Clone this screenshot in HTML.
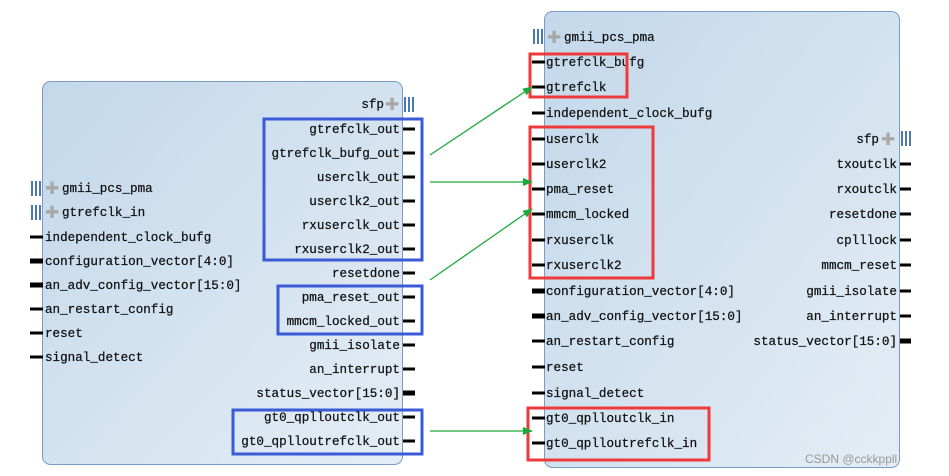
<!DOCTYPE html>
<html><head><meta charset="utf-8"><style>
html,body{margin:0;padding:0;background:#fff;}
svg{display:block;}
text{font-family:"Liberation Mono","DejaVu Sans Mono",monospace;font-size:12.6px;fill:#111;stroke:#111;stroke-width:0.25;}
</style></head><body>
<svg width="949" height="476" viewBox="0 0 949 476" xmlns="http://www.w3.org/2000/svg">
<defs>
<linearGradient id="g" x1="0" y1="0" x2="1" y2="1">
<stop offset="0" stop-color="#c3d8ea"/><stop offset="1" stop-color="#e4edf5"/>
</linearGradient>
<marker id="ah" markerWidth="10" markerHeight="8" refX="9" refY="4" orient="auto" markerUnits="userSpaceOnUse">
<path d="M0,0 L10,4 L0,8 Z" fill="#1aaa3a"/></marker>
</defs>
<rect x="42.5" y="81.5" width="360" height="383" rx="8" fill="url(#g)" stroke="#7a9cc4"/>
<rect x="544.5" y="11.5" width="355" height="456" rx="8" fill="url(#g)" stroke="#7a9cc4"/>

<g stroke="#000" stroke-width="3">
<line x1="30" y1="237" x2="43" y2="237"/>
<line x1="30" y1="261" x2="43" y2="261" stroke-width="5"/>
<line x1="30" y1="285" x2="43" y2="285" stroke-width="5"/>
<line x1="30" y1="309" x2="43" y2="309"/>
<line x1="30" y1="333" x2="43" y2="333"/>
<line x1="30" y1="357" x2="43" y2="357"/>
<line x1="403" y1="129" x2="415" y2="129"/><line x1="403" y1="153" x2="415" y2="153"/>
<line x1="403" y1="177" x2="415" y2="177"/><line x1="403" y1="201" x2="415" y2="201"/>
<line x1="403" y1="225" x2="415" y2="225"/><line x1="403" y1="249" x2="415" y2="249"/>
<line x1="403" y1="273" x2="415" y2="273"/><line x1="403" y1="297" x2="415" y2="297"/>
<line x1="403" y1="321" x2="415" y2="321"/><line x1="403" y1="345" x2="415" y2="345"/>
<line x1="403" y1="369" x2="415" y2="369"/><line x1="403" y1="393" x2="415" y2="393" stroke-width="5"/>
<line x1="403" y1="417" x2="415" y2="417"/><line x1="403" y1="441" x2="415" y2="441"/>
<line x1="532" y1="62" x2="545" y2="62"/><line x1="532" y1="87" x2="545" y2="87"/>
<line x1="532" y1="113" x2="545" y2="113"/><line x1="532" y1="139" x2="545" y2="139"/>
<line x1="532" y1="164" x2="545" y2="164"/><line x1="532" y1="189" x2="545" y2="189"/>
<line x1="532" y1="214" x2="545" y2="214"/><line x1="532" y1="240" x2="545" y2="240"/>
<line x1="532" y1="265" x2="545" y2="265"/>
<line x1="532" y1="291" x2="545" y2="291" stroke-width="5"/><line x1="532" y1="316" x2="545" y2="316" stroke-width="5"/>
<line x1="532" y1="341" x2="545" y2="341"/><line x1="532" y1="367" x2="545" y2="367"/>
<line x1="532" y1="393" x2="545" y2="393"/><line x1="532" y1="418" x2="545" y2="418"/>
<line x1="532" y1="443" x2="545" y2="443"/>
<line x1="900" y1="164" x2="911" y2="164"/><line x1="900" y1="189" x2="911" y2="189"/>
<line x1="900" y1="214" x2="911" y2="214"/><line x1="900" y1="240" x2="911" y2="240"/>
<line x1="900" y1="265" x2="911" y2="265"/><line x1="900" y1="291" x2="911" y2="291"/>
<line x1="900" y1="316" x2="911" y2="316"/><line x1="900" y1="341" x2="911" y2="341" stroke-width="5"/>
</g>
<g fill="#4a78b0">
<rect x="31" y="181" width="2" height="15"/><rect x="35" y="181" width="2" height="15"/><rect x="39" y="181" width="2" height="15"/>
<rect x="31" y="205" width="2" height="15"/><rect x="35" y="205" width="2" height="15"/><rect x="39" y="205" width="2" height="15"/>
<rect x="404" y="97" width="2" height="15"/><rect x="408" y="97" width="2" height="15"/><rect x="412" y="97" width="2" height="15"/>
<rect x="533" y="29" width="2" height="15"/><rect x="537" y="29" width="2" height="15"/><rect x="541" y="29" width="2" height="15"/>
<rect x="901" y="131" width="2" height="15"/><rect x="905" y="131" width="2" height="15"/><rect x="909" y="131" width="2" height="15"/>
</g>
<g>
<text x="45" y="194" style="font-family:'Liberation Sans';font-size:17px;fill:#a8a8a8;stroke:none">✚</text>
<text x="45" y="218" style="font-family:'Liberation Sans';font-size:17px;fill:#a8a8a8;stroke:none">✚</text>
<text x="385" y="110" style="font-family:'Liberation Sans';font-size:17px;fill:#a8a8a8;stroke:none">✚</text>
<text x="547" y="43" style="font-family:'Liberation Sans';font-size:17px;fill:#a8a8a8;stroke:none">✚</text>
<text x="881" y="145" style="font-family:'Liberation Sans';font-size:17px;fill:#a8a8a8;stroke:none">✚</text>
</g>
<text x="62" y="192">gmii_pcs_pma</text>
<text x="62" y="216">gtrefclk_in</text>
<text x="45" y="241">independent_clock_bufg</text>
<text x="45" y="265">configuration_vector[4:0]</text>
<text x="45" y="289">an_adv_config_vector[15:0]</text>
<text x="45" y="313">an_restart_config</text>
<text x="45" y="337">reset</text>
<text x="45" y="361">signal_detect</text>
<g text-anchor="end">
<text x="384" y="108">sfp</text>
<text x="400" y="133">gtrefclk_out</text>
<text x="400" y="157">gtrefclk_bufg_out</text>
<text x="400" y="181">userclk_out</text>
<text x="400" y="205">userclk2_out</text>
<text x="400" y="229">rxuserclk_out</text>
<text x="400" y="253">rxuserclk2_out</text>
<text x="400" y="277">resetdone</text>
<text x="400" y="301">pma_reset_out</text>
<text x="400" y="325">mmcm_locked_out</text>
<text x="400" y="349">gmii_isolate</text>
<text x="400" y="373">an_interrupt</text>
<text x="400" y="397">status_vector[15:0]</text>
<text x="400" y="421">gt0_qplloutclk_out</text>
<text x="400" y="445">gt0_qplloutrefclk_out</text>
</g>
<text x="564" y="41">gmii_pcs_pma</text>
<text x="546" y="66">gtrefclk_bufg</text>
<text x="546" y="91">gtrefclk</text>
<text x="546" y="117">independent_clock_bufg</text>
<text x="546" y="143">userclk</text>
<text x="546" y="168">userclk2</text>
<text x="546" y="193">pma_reset</text>
<text x="546" y="218">mmcm_locked</text>
<text x="546" y="244">rxuserclk</text>
<text x="546" y="269">rxuserclk2</text>
<text x="546" y="295">configuration_vector[4:0]</text>
<text x="546" y="320">an_adv_config_vector[15:0]</text>
<text x="546" y="345">an_restart_config</text>
<text x="546" y="371">reset</text>
<text x="546" y="397">signal_detect</text>
<text x="546" y="422">gt0_qplloutclk_in</text>
<text x="546" y="447">gt0_qplloutrefclk_in</text>
<g text-anchor="end">
<text x="879" y="143">sfp</text>
<text x="897" y="168">txoutclk</text>
<text x="897" y="193">rxoutclk</text>
<text x="897" y="218">resetdone</text>
<text x="897" y="244">cplllock</text>
<text x="897" y="269">mmcm_reset</text>
<text x="897" y="295">gmii_isolate</text>
<text x="897" y="320">an_interrupt</text>
<text x="897" y="345">status_vector[15:0]</text>
</g>
<g fill="none" stroke-width="3">
<rect x="264" y="119" width="158" height="141" stroke="#3a5ad8"/>
<rect x="278" y="286" width="144" height="48" stroke="#3a5ad8"/>
<rect x="233" y="410" width="189" height="44" stroke="#3a5ad8"/>
<rect x="530" y="54" width="97" height="43" stroke="#ee3a3a"/>
<rect x="530" y="127" width="123" height="151" stroke="#ee3a3a"/>
<rect x="528" y="408" width="181" height="52" stroke="#ee3a3a"/>
</g>
<g stroke="#1aaa3a" stroke-width="1.3" marker-end="url(#ah)">
<line x1="430" y1="155" x2="532" y2="87"/>
<line x1="430" y1="182" x2="532" y2="182"/>
<line x1="430" y1="280" x2="532" y2="209"/>
<line x1="430" y1="431" x2="532" y2="431"/>
</g>
<text x="805" y="463" style="font-family:'Liberation Sans';font-size:12px;fill:#999;stroke:none">CSDN @cckkppll</text>
</svg>
</body></html>
